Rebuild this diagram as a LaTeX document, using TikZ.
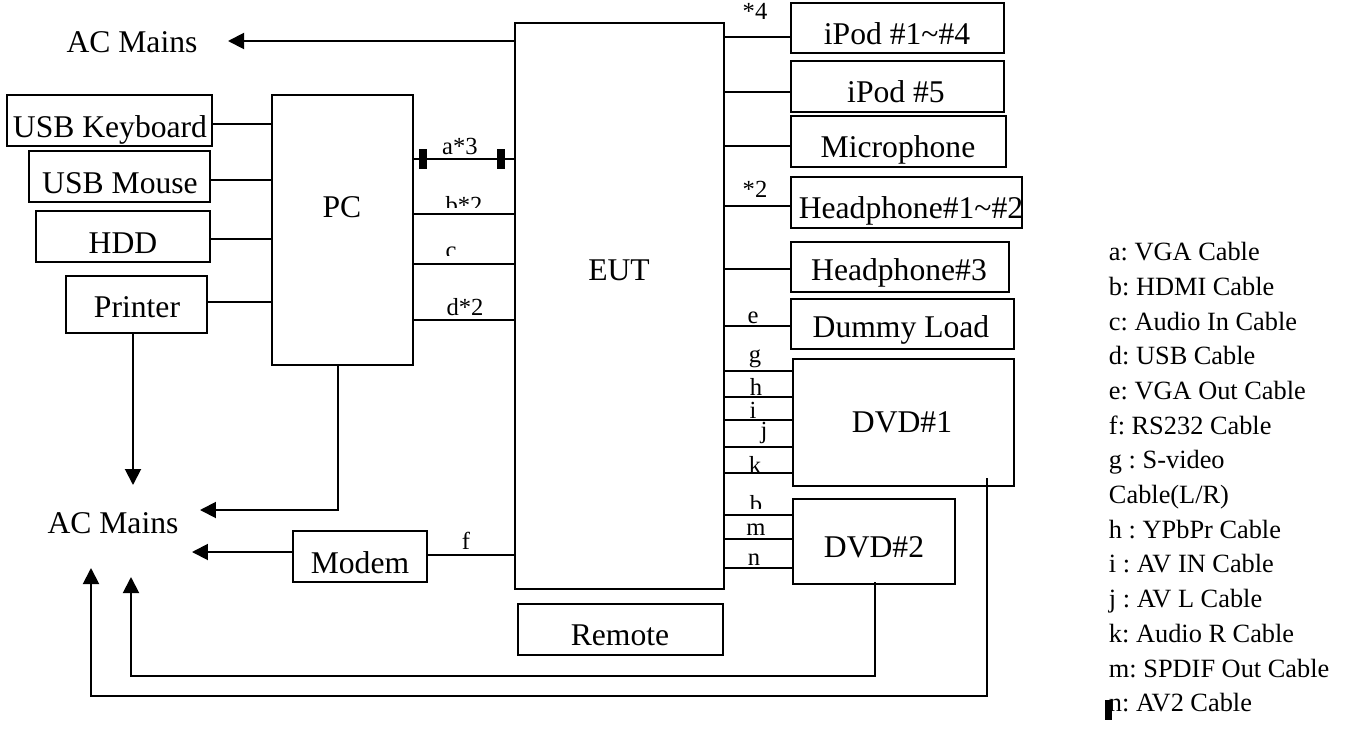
\documentclass[tikz,border=0pt]{standalone}
\usepackage{fontspec}
\setmainfont{Liberation Serif}
\usetikzlibrary{arrows.meta,calc}
\frenchspacing
\newcommand\mkbox[5]{\node[box, minimum width={(#4-#2)*0.02cm}, minimum height={(#5-#3)*0.02cm}, anchor=north west] (#1) at (#2,#3) {};}
\begin{document}
\begin{tikzpicture}[x=0.02cm,y=-0.02cm, line width=1.1pt,
  box/.style={draw, inner sep=0pt, outer sep=0pt},
  big/.style={font=\fontsize{18}{20}\selectfont, inner sep=0pt, anchor=base},
  lbl/.style={font=\fontsize{14}{16}\selectfont, inner sep=0pt, anchor=base},
  leg/.style={font=\fontsize{15}{17}\selectfont, inner sep=0pt, anchor=base west},
  arr/.style={-{Triangle[length=0.32cm,width=0.32cm]}},
  blk/.style={fill=black, inner sep=0pt, minimum width=0.16cm, minimum height=0.4cm}]
\useasboundingbox (0,0) rectangle (1349,730);

% boxes
\mkbox{kb}{7}{95}{212}{146}
\mkbox{ms}{29}{151}{210}{202}
\mkbox{hdd}{36}{211}{210}{262}
\mkbox{prt}{66}{276}{207}{333}
\mkbox{pc}{272}{95}{413}{365}
\mkbox{eut}{515}{23}{724}{589}
\mkbox{modem}{293}{531}{427}{582}
\mkbox{remote}{518}{604}{723}{655}
\mkbox{ipa}{791}{3}{1004}{53}
\mkbox{ipb}{791}{61}{1004}{112}
\mkbox{mic}{791}{116}{1006}{167}
\mkbox{hpa}{791}{177}{1022}{228}
\mkbox{hpb}{791}{242}{1009}{292}
\mkbox{dl}{791}{299}{1014}{349}
\mkbox{dvda}{793}{359}{1014}{486}
\mkbox{dvdb}{793}{499}{955}{584}

% box texts
\node[big] (kbt) at (110,137) {USB Keyboard};
\node[big] (mst) at (120,193) {USB Mouse};
\node[big] (hddt) at (123,253) {HDD};
\node[big] (prtt) at (137,317) {Printer};
\node[big] (pct) at (342,217) {PC};
\node[big] (eutt) at (619,280) {EUT};
\node[big] (acma) at (132,52) {AC Mains};
\node[big] (acmb) at (113,533) {AC Mains};
\node[big] (modemt) at (360,573) {Modem};
\node[big] (remotet) at (620,645) {Remote};
\node[big] (ipat) at (897,44) {iPod \#1\textasciitilde\#4};
\node[big] (ipbt) at (896,102) {iPod \#5};
\node[big] (mict) at (898,157) {Microphone};
\node[big] (hpat) at (911,218) {Headphone\#1\textasciitilde\#2};
\node[big] (hpbt) at (899,280) {Headphone\#3};
\node[big] (dlt) at (901,337) {Dummy Load};
\node[big] (dvdat) at (902,432) {DVD\#1};
\node[big] (dvdbt) at (874,557) {DVD\#2};

% left device connectors
\draw (kb.east |- 0,124) -- (pc.west |- 0,124);
\draw (ms.east |- 0,180) -- (pc.west |- 0,180);
\draw (hdd.east |- 0,239) -- (pc.west |- 0,239);
\draw (prt.east |- 0,302) -- (pc.west |- 0,302);

% PC to EUT
\draw (pc.east |- 0,159) -- (eut.west |- 0,159);
\draw (pc.east |- 0,214) -- (eut.west |- 0,214);
\draw (pc.east |- 0,264) -- (eut.west |- 0,264);
\draw (pc.east |- 0,320) -- (eut.west |- 0,320);
\node[blk] (mka) at (423,159) {};
\node[blk] (mkb) at (501,159) {};
\node[lbl] (la) at (460,154) {a*3};
\begin{scope}
  \clip (430,180) rectangle (500,207);
  \node[lbl] (lb) at (464,213) {b*2};
\end{scope}
\begin{scope}
  \clip (430,235) rectangle (500,255);
  \node[lbl] (lc) at (451,258) {c};
\end{scope}
\node[lbl] (ld) at (465,315) {d*2};

% modem
\draw (modem.east |- 0,555) -- (eut.west |- 0,555);
\node[lbl] (lf) at (466,549) {f};

% EUT right connectors
\draw (eut.east |- 0,37) -- (ipa.west |- 0,37);
\draw (eut.east |- 0,92) -- (ipb.west |- 0,92);
\draw (eut.east |- 0,146) -- (mic.west |- 0,146);
\draw (eut.east |- 0,206) -- (hpa.west |- 0,206);
\draw (eut.east |- 0,269) -- (hpb.west |- 0,269);
\draw (eut.east |- 0,326) -- (dl.west |- 0,326);
\draw (eut.east |- 0,371) -- (dvda.west |- 0,371);
\draw (eut.east |- 0,397) -- (dvda.west |- 0,397);
\draw (eut.east |- 0,420) -- (dvda.west |- 0,420);
\draw (eut.east |- 0,447) -- (dvda.west |- 0,447);
\draw (eut.east |- 0,473) -- (dvda.west |- 0,473);
\draw (eut.east |- 0,515) -- (dvdb.west |- 0,515);
\draw (eut.east |- 0,539) -- (dvdb.west |- 0,539);
\draw (eut.east |- 0,568) -- (dvdb.west |- 0,568);
\node[lbl] (l4) at (755,19) {*4};
\node[lbl] (l2) at (755,197) {*2};
\node[lbl] (le) at (753,323) {e};
\node[lbl] (lg) at (755,362) {g};
\node[lbl] (lh) at (756,395) {h};
\node[lbl] (li) at (753,418) {i};
\node[lbl] (lj) at (764,438) {j};
\node[lbl] (lk) at (755,473) {k};
\begin{scope}
  \clip (740,485) rectangle (775,508);
  \node[lbl] (lbb) at (756,512) {b};
\end{scope}
\node[lbl] (lm) at (756,535) {m};
\node[lbl] (ln) at (754,565) {n};

% AC mains arrows
\coordinate (ta) at (228,41);
\coordinate (tb) at (133,485);
\coordinate (tc) at (200,510);
\coordinate (td) at (192,552);
\coordinate (te) at (131,577);
\coordinate (tf) at (91,568);
\draw[arr] (eut.west |- ta) -- (ta);
\draw[arr] (prt.south -| tb) -- (tb);
\draw[arr] (pc.south -| 338,0) |- (tc);
\draw[arr] (modem.west |- td) -- (td);
\draw[arr] ($(dvdb.south -| 875,0)+(0,-2)$) -- (875,676) -| (te);
\draw[arr] ($(dvda.south -| 987,0)+(0,-8)$) -- (987,696) -| (tf);

% legend
\node[leg] (ga) at (1108,260) {a: VGA Cable};
\node[leg] (gb) at (1108,295) {b: HDMI Cable};
\node[leg] (gc) at (1108,330) {c: Audio In Cable};
\node[leg] (gd) at (1108,364) {d: USB Cable};
\node[leg] (ge) at (1108,399) {e: VGA Out Cable};
\node[leg] (gf) at (1108,434) {f: RS232 Cable};
\node[leg] (gg) at (1108,468) {g : S-video};
\node[leg] (gg2) at (1108,503) {Cable(L/R)};
\node[leg] (gh) at (1108,538) {h : YPbPr Cable};
\node[leg] (gi) at (1108,572) {i : AV IN Cable};
\node[leg] (gj) at (1108,607) {j : AV L Cable};
\node[leg] (gk) at (1108,642) {k: Audio R Cable};
\node[leg] (gm) at (1108,677) {m: SPDIF Out Cable};
\node[leg] (gn) at (1108,711) {n: AV2 Cable};
\node[fill=black, inner sep=0pt, minimum width=0.14cm, minimum height=0.4cm] (cur) at (1108.5,710) {};
\end{tikzpicture}
\end{document}
